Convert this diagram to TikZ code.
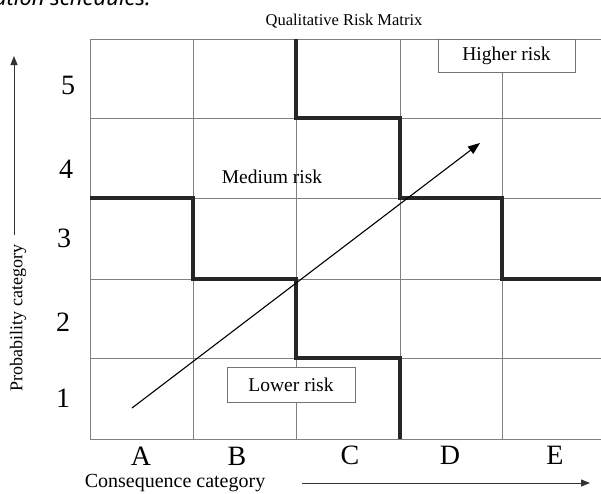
\documentclass[tikz,border=0pt]{standalone}
\usepackage{fontspec}
\setmainfont{Liberation Serif}
\newfontfamily\capfont{Noto Sans}
\usetikzlibrary{arrows.meta}
\begin{document}
\begin{tikzpicture}[x=1pt,y=-1pt,
  gridline/.style={draw=black!50, line width=0.9pt},
  zoneline/.style={draw=black!85, line width=3.3pt},
  axisarrow/.style={draw=black!80, line width=0.9pt, -{Triangle[length=9pt,width=7pt]}},
  trend/.style={draw=black, line width=1.1pt, -{Triangle[length=12pt,width=9pt]}},
  lvl/.style={font=\fontsize{28}{30}\selectfont, inner sep=0pt},
  riskbox/.style={draw=black!55, line width=0.9pt, fill=white, inner sep=0pt,
    font=\fontsize{19.5}{22}\selectfont},
  lbl/.style={font=\fontsize{18}{20}\selectfont, inner sep=0pt}
]
\useasboundingbox (0,0) rectangle (601,493);

% tail of the caption above the figure
\node[anchor=base east, inner sep=0pt, font=\capfont\itshape\bfseries\fontsize{22}{24}\selectfont] (captail) at (151,5) {ation schedules.};

% grid
\foreach \x in {90,193,296,400,502} \draw[gridline] (\x,39) -- (\x,439);
\foreach \y in {39,118,198,279,358,439} \draw[gridline] (90,\y) -- (601,\y);

% zone boundaries
\draw[zoneline] (296,39) -- (296,118) -- (400,118) -- (400,198) -- (502,198) -- (502,279) -- (601,279);
\draw[zoneline] (90,198) -- (193,198) -- (193,279) -- (296,279) -- (296,358) -- (400,358) -- (400,439);

% zone labels
\node[riskbox, minimum width=137pt, minimum height=33pt] (high) at (506.5,55.5) {Higher risk};
\node[riskbox, minimum width=128pt, minimum height=35pt] (low) at (291,384.5) {Lower risk};
\node[lbl, font=\fontsize{19.5}{22}\selectfont] (med) at (272,177) {Medium risk};

% rising risk trend
\coordinate (tstart) at (132,408);
\coordinate (tend) at (480,143);
\draw[trend] (tstart) -- (tend);

% title
\node[lbl, font=\fontsize{16.5}{18}\selectfont] (title) at (344,21) {Qualitative Risk Matrix};

% probability levels
\node[lvl] (p5) at (68,85) {5};
\node[lvl] (p4) at (66,169) {4};
\node[lvl] (p3) at (64,238) {3};
\node[lvl] (p2) at (63,322) {2};
\node[lvl] (p1) at (63,398) {1};

% consequence levels
\node[lvl] (cA) at (141,456) {A};
\node[lvl] (cB) at (237,456) {B};
\node[lvl] (cC) at (350,455) {C};
\node[lvl] (cD) at (450,455) {D};
\node[lvl] (cE) at (555,455) {E};

% axis titles and arrows
\node[lbl, rotate=90] (ptitle) at (18,318) {Probability category};
\node[lbl, font=\fontsize{20}{22}\selectfont] (ctitle) at (175,483) {Consequence category};
\coordinate (pa0) at (14,235);
\coordinate (pa1) at (14,56);
\draw[axisarrow] (pa0) -- (pa1);
\coordinate (ca0) at (302,483);
\coordinate (ca1) at (590,483);
\draw[axisarrow] (ca0) -- (ca1);
\end{tikzpicture}
\end{document}
